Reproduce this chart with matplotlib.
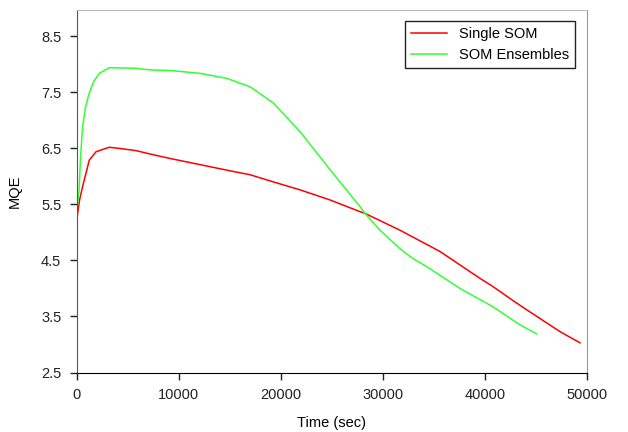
import matplotlib.pyplot as plt
import numpy as np

plt.rcParams['font.family'] = ['Liberation Sans', 'DejaVu Sans']

# Single SOM curve (time in sec, MQE)
single_t = [0, 80, 300, 600, 1250, 1910, 3210, 4190, 5830, 7200, 9160, 12100,
            15030, 17000, 18950, 21890, 24830, 27770, 28250, 31680, 35600,
            37560, 39520, 40820, 42780, 44090, 47350, 49310]
single_mqe = [5.16, 5.30, 5.58, 5.82, 6.29, 6.44, 6.52, 6.50, 6.46, 6.40, 6.32, 6.21,
              6.10, 6.03, 5.92, 5.76, 5.58, 5.37, 5.34, 5.04, 4.66,
              4.42, 4.18, 4.03, 3.78, 3.62, 3.23, 3.03]

# SOM Ensembles curve
ens_t = [0, 100, 250, 400, 600, 900, 1250, 1700, 2240, 3210, 5830, 7200, 9160,
         12100, 14710, 17000, 19280, 21890, 24830, 25640, 27770, 28250, 29720,
         31680, 32900, 34300, 37560, 40820, 43440, 45070]
ens_mqe = [5.25, 5.50, 5.75, 6.35, 6.89, 7.25, 7.49, 7.70, 7.84, 7.94, 7.93, 7.90, 7.89,
           7.84, 7.75, 7.60, 7.31, 6.80, 6.12, 5.94, 5.46, 5.34, 5.04,
           4.71, 4.54, 4.39, 4.00, 3.67, 3.35, 3.19]


def main() -> None:
    fig = plt.figure(figsize=(6.28, 4.32), dpi=100)
    ax = fig.add_axes([76.5 / 628, 1 - 372.5 / 432, (587 - 76.5) / 628, (372.5 - 10) / 432])

    ax.plot(single_t, single_mqe, color="#ff0000", linewidth=1.1, label="Single SOM")
    ax.plot(ens_t, ens_mqe, color="#33ff33", linewidth=1.1, label="SOM Ensembles")

    ax.set_xlim(0, 50000)
    ax.set_ylim(2.5, 8.97)
    ax.set_xticks(np.arange(0, 50001, 10000))
    ax.set_yticks([2.5, 3.5, 4.5, 5.5, 6.5, 7.5, 8.5])
    ax.set_yticklabels(["2.5", "3.5", "4.5", "5.5", "6.5", "7.5", "8.5"])
    ax.tick_params(axis="both", direction="out", length=5, width=1, labelsize=10.5,
                   colors="#222222", pad=6)

    ax.spines["left"].set_color("#555555")
    ax.spines["bottom"].set_color("#000000")
    ax.spines["top"].set_color("#bbbbbb")
    ax.spines["right"].set_color("#999999")

    ax.set_xlabel("Time (sec)", fontsize=10.5, labelpad=10)
    ax.set_ylabel("MQE", fontsize=10.5, labelpad=14)

    leg = ax.legend(loc="upper right", bbox_to_anchor=(0.99, 0.99), fontsize=10.5,
                    fancybox=False, framealpha=1, edgecolor="#222222",
                    handlelength=2.5, borderpad=0.4, labelspacing=0.5)
    leg.get_frame().set_linewidth(1.0)

    fig.savefig("out.png", dpi=100)


if __name__ == "__main__":
    main()
